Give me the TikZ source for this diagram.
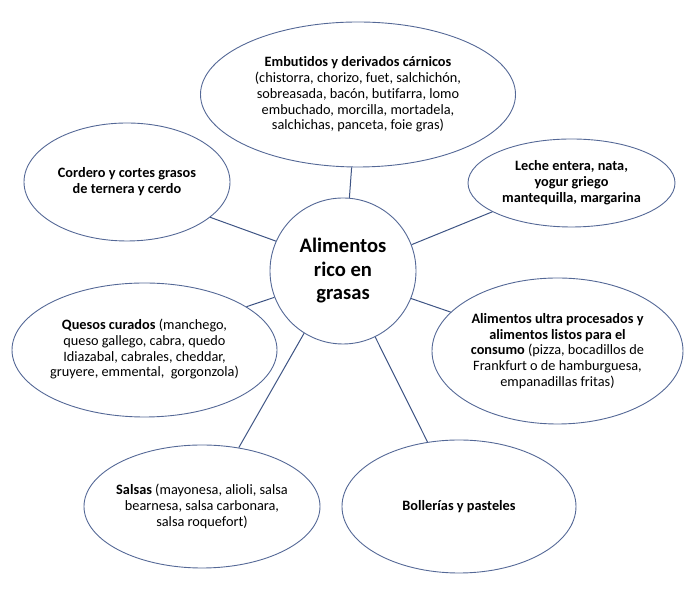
\documentclass[tikz,border=0pt]{standalone}
\usepackage{fontspec}
\setmainfont{Carlito}[Ligatures=NoCommon]
\usetikzlibrary{shapes.geometric}
\definecolor{rimcol}{RGB}{84,104,150}
\definecolor{linkcol}{RGB}{62,84,132}
\tikzset{
  bubble/.style={ellipse, draw=rimcol, line width=0.9pt, inner sep=-20pt, align=center,
    font=\fontsize{14.3}{15.8}\selectfont, text=black},
  hub/.style={circle, draw=rimcol, line width=0.9pt, inner sep=0pt, align=center,
    minimum size=146pt, font=\fontsize{20.6}{23.5}\selectfont\bfseries},
  link/.style={draw=linkcol, line width=1pt}
}
\begin{document}
\begin{tikzpicture}[x=1pt,y=1pt]
\useasboundingbox (0,0) rectangle (689,599);
\node[hub] (C) at (343,328) {Alimentos\\rico en\\grasas};
\node[bubble, minimum width=315pt, minimum height=145pt] (E) at (358,504.5)
  {\textbf{Embutidos y derivados cárnicos}\\(chistorra, chorizo, fuet, salchichón,\\sobreasada, bacón, butifarra, lomo\\embuchado, morcilla, mortadela,\\salchichas, panceta, foie gras)};
\node[bubble, minimum width=206pt, minimum height=118pt] (Co) at (127,417)
  {\textbf{Cordero y cortes grasos}\\\textbf{de ternera y cerdo}};
\node[bubble, minimum width=207pt, minimum height=88pt] (Le) at (571.5,416)
  {\textbf{Leche entera, nata,}\\\textbf{yogur griego}\\\textbf{mantequilla, margarina}};
\node[bubble, minimum width=265pt, minimum height=134pt] (Qu) at (144.5,249)
  {\raisebox{-4pt}{\begin{tabular}{@{}c@{}}\textbf{Quesos curados} (manchego,\\queso gallego, cabra, quedo\\Idiazabal, cabrales, cheddar,\\gruyere, emmental,\ \ gorgonzola)\end{tabular}}};
\node[bubble, minimum width=251pt, minimum height=146pt] (Ul) at (557.5,248)
  {\textbf{Alimentos ultra procesados y}\\\textbf{alimentos listos para el}\\\textbf{consumo} (pizza, bocadillos de\\Frankfurt o de hamburguesa,\\empanadillas fritas)};
\node[bubble, minimum width=236pt, minimum height=123pt] (Sa) at (202,92.5)
  {\textbf{Salsas} (mayonesa, alioli, salsa\\bearnesa, salsa carbonara,\\salsa roquefort)};
\node[bubble, minimum width=234pt, minimum height=133pt] (Bo) at (459,92.5)
  {\textbf{Bollerías y pasteles}};
\draw[link] (E.265.3) -- (C.85.3);
\draw[link] (Co.337.6) -- (C.156.9);
\draw[link] (Le.200.9) -- (C.21.8);
\draw[link] (Qu.23.6) -- (C.201.7);
\draw[link] (Ul.160) -- (C.338.9);
\draw[link] (Sa.58.8) -- (C.238);
\draw[link] (Bo.116.7) -- (C.296.9);
\end{tikzpicture}
\end{document}
